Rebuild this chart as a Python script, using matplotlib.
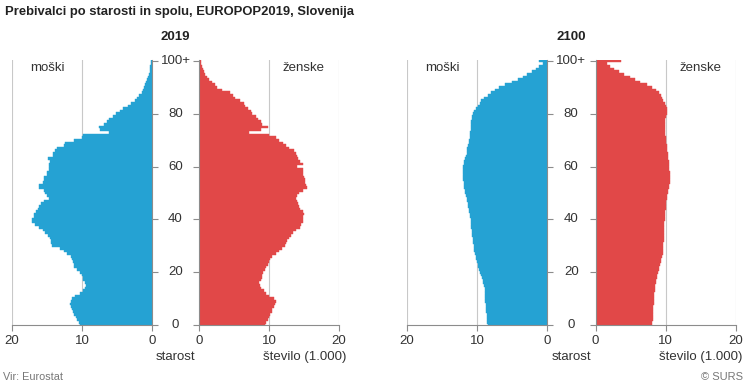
import matplotlib
matplotlib.use("Agg")
import matplotlib.pyplot as plt
import matplotlib.transforms as mtransforms
import numpy as np

plt.rcParams['font.family'] = ['Liberation Sans', 'DejaVu Sans']

ages = list(range(0, 101))
age_ticks = [0, 20, 40, 60, 80, 100]
age_tick_labels = ["0", "20", "40", "60", "80", "100+"]
x_ticks = [0, 10, 20]

male_2019 = [10.3, 10.5, 10.7, 10.9, 11.1, 11.3, 11.5, 11.6, 11.7, 11.6,
             11.5, 11.0, 10.3, 9.8, 9.6, 9.5, 9.6, 9.8, 9.9, 10.0,
             10.3, 10.7, 11.1, 11.2, 11.3, 11.4, 11.6, 12.2, 12.6, 13.1,
             14.3, 14.4, 14.5, 14.6, 14.8, 15.3, 15.6, 16.1, 16.7, 17.2,
             17.1, 16.9, 16.8, 16.6, 16.3, 16.2, 15.8, 15.5, 14.7, 15.0,
             15.3, 15.5, 16.2, 16.1, 15.6, 15.5, 15.5, 15.0, 15.0, 14.7,
             14.7, 14.7, 14.6, 14.8, 14.1, 14.1, 13.9, 13.6, 12.6, 12.4,
             11.2, 10.0, 9.8, 6.1, 7.4, 7.6, 6.9, 6.5, 6.1, 5.6,
             5.1, 4.6, 4.1, 3.5, 3.0, 2.5, 2.1, 1.8, 1.5, 1.3,
             1.1, 0.95, 0.8, 0.65, 0.55, 0.45, 0.35, 0.3, 0.25, 0.2,
             0.2]

female_2019 = [9.4, 9.6, 9.9, 10.0, 10.2, 10.4, 10.5, 10.7, 10.9, 11.0,
               10.7, 10.0, 9.6, 9.3, 8.9, 8.7, 8.6, 8.8, 9.0, 9.0,
               9.1, 9.5, 9.6, 9.8, 10.0, 10.1, 10.5, 11.0, 11.5, 11.9,
               12.3, 12.5, 12.6, 12.9, 13.1, 13.4, 13.9, 14.4, 14.6, 14.9,
               14.9, 14.8, 15.0, 14.8, 14.5, 14.3, 14.1, 14.0, 13.8, 14.0,
               14.3, 14.8, 15.5, 15.3, 15.2, 15.1, 15.0, 14.9, 14.8, 14.8,
               14.0, 14.8, 14.5, 14.2, 14.0, 13.8, 13.6, 12.9, 12.4, 12.0,
               11.4, 11.0, 10.0, 7.1, 8.8, 9.8, 9.0, 8.8, 8.5, 8.1,
               7.6, 7.4, 7.0, 6.6, 6.4, 5.8, 5.2, 4.8, 4.4, 3.3,
               2.6, 2.3, 1.9, 1.5, 1.1, 0.9, 0.7, 0.55, 0.4, 0.3,
               0.25]

male_2100 = [8.5, 8.55, 8.6, 8.6, 8.6, 8.65, 8.7, 8.7, 8.75, 8.8,
             8.8, 8.85, 8.85, 8.9, 8.9, 9.0, 9.1, 9.2, 9.35, 9.5,
             9.6, 9.7, 9.8, 9.9, 10.0, 10.1, 10.2, 10.3, 10.4, 10.45,
             10.5, 10.55, 10.6, 10.6, 10.65, 10.7, 10.75, 10.8, 10.85, 10.9,
             10.9, 10.95, 11.0, 11.1, 11.2, 11.25, 11.3, 11.4, 11.5, 11.6,
             11.7, 11.75, 11.8, 11.85, 11.9, 12.0, 12.0, 12.0, 12.0, 12.0,
             11.95, 11.9, 11.8, 11.7, 11.6, 11.5, 11.45, 11.4, 11.3, 11.2,
             11.1, 11.0, 11.0, 10.95, 10.9, 10.85, 10.8, 10.8, 10.75, 10.7,
             10.6, 10.4, 10.2, 9.9, 9.6, 9.4, 9.0, 8.5, 8.0, 7.5,
             6.8, 6.0, 5.0, 4.2, 3.5, 2.8, 2.2, 1.6, 1.1, 0.6,
             1.1]

female_2100 = [8.1, 8.1, 8.15, 8.2, 8.2, 8.2, 8.25, 8.25, 8.3, 8.3,
               8.3, 8.35, 8.4, 8.45, 8.5, 8.55, 8.6, 8.65, 8.75, 8.85,
               8.95, 9.05, 9.1, 9.2, 9.3, 9.4, 9.5, 9.6, 9.65, 9.7,
               9.7, 9.7, 9.75, 9.75, 9.8, 9.8, 9.8, 9.85, 9.85, 9.85,
               9.9, 9.9, 9.9, 9.95, 10.0, 10.0, 10.05, 10.1, 10.2, 10.25,
               10.3, 10.4, 10.5, 10.55, 10.6, 10.6, 10.6, 10.6, 10.6, 10.55,
               10.5, 10.5, 10.45, 10.4, 10.35, 10.3, 10.25, 10.2, 10.2, 10.1,
               10.05, 10.0, 9.95, 9.9, 9.9, 9.9, 9.9, 9.9, 9.95, 10.0,
               10.2, 10.2, 10.2, 10.0, 9.9, 9.7, 9.5, 9.3, 9.0, 8.7,
               8.1, 7.3, 6.4, 5.6, 4.9, 4.0, 3.3, 2.6, 2.0, 1.6,
               3.7]

years = ["2019", "2100"]
male_data = [male_2019, male_2100]
female_data = [female_2019, female_2100]

BLUE = "#25A2D3"
RED = "#E14848"
GRID = "#c8c8c8"
SPINE = "#8c8c8c"
TXT = "#333333"

W, H = 750, 389
fig = plt.figure(figsize=(W / 100, H / 100), dpi=100)

def fx(px):
    return px / W

def fy(py):
    return 1 - py / H

ax_top, ax_bot = 59.7, 325.0
bottom = fy(ax_bot)
height = (ax_bot - ax_top) / H

layouts = [(12, 152, 199, 339), (407, 547, 595.5, 735.5)]

for k in range(2):
    ml, mr, fl, fr = layouts[k]
    axm = fig.add_axes([fx(ml), bottom, fx(mr - ml), height])
    axf = fig.add_axes([fx(fl), bottom, fx(fr - fl), height])

    axm.barh(ages, male_data[k], height=1.0, color=BLUE, edgecolor=BLUE,
             linewidth=0.3, zorder=2)
    axf.barh(ages, female_data[k], height=1.0, color=RED, edgecolor=RED,
             linewidth=0.3, zorder=2)

    axm.set_xlim(20, 0)
    axf.set_xlim(0, 20)
    for ax in (axm, axf):
        ax.set_ylim(0, 100.5)
        ax.set_xticks(x_ticks)
        ax.set_xticklabels([str(t) for t in x_ticks], fontsize=9.5, color=TXT)
        ax.tick_params(axis='x', length=4, width=0.8, color=SPINE, pad=3)
        ax.spines['top'].set_visible(False)
        ax.spines['bottom'].set_color(SPINE)
        ax.spines['bottom'].set_linewidth(0.8)
        for xv in (10, 20):
            ax.axvline(xv, color=GRID, linewidth=0.8, zorder=1)
        ax.set_yticks(age_ticks)
        ax.set_yticklabels([])
        ax.set_facecolor('none')

    axm.spines['left'].set_visible(False)
    axm.spines['right'].set_color(SPINE)
    axm.spines['right'].set_linewidth(0.8)
    axm.yaxis.tick_right()
    axm.tick_params(axis='y', length=4, width=0.8, color=SPINE, direction='out')
    axm.set_yticklabels([])

    axf.spines['right'].set_visible(False)
    axf.spines['left'].set_color(SPINE)
    axf.spines['left'].set_linewidth(0.8)
    axf.tick_params(axis='y', length=4, width=0.8, color=SPINE, direction='out')

    # age labels centred between halves
    gap_c = (mr + fl) / 2.0
    off = (gap_c - mr) / (mr - ml)
    trans = mtransforms.blended_transform_factory(axm.transAxes, axm.transData)
    for t, lab in zip(age_ticks, age_tick_labels):
        axm.text(1 + off, t, lab, transform=trans, ha='center', va='center',
                 fontsize=9.5, color=TXT)

    axm.text(15, 97.5, "moški", ha='center', va='center', fontsize=9.5, color=TXT)
    axf.text(15, 97.5, "ženske", ha='center', va='center', fontsize=9.5, color=TXT)

    fig.text(fx(gap_c), fy(37), years[k], ha='center', va='center',
             fontsize=9.5, fontweight='bold', color='#222222')
    fig.text(fx(gap_c), fy(357), "starost", ha='center', va='center',
             fontsize=9.5, color=TXT)
    fig.text(fx(fr + 7), fy(357), "število (1.000)", ha='right', va='center',
             fontsize=9.5, color=TXT)

fig.text(fx(5), fy(12), "Prebivalci po starosti in spolu, EUROPOP2019, Slovenija",
         ha='left', va='center', fontsize=9.4, fontweight='bold', color='#222222')
fig.text(fx(3), fy(377), "Vir: Eurostat", ha='left', va='center', fontsize=7.8,
         color='#777777')
fig.text(fx(743), fy(377), "© SURS", ha='right', va='center', fontsize=8,
         color='#777777')

fig.savefig("out.png", dpi=100)
